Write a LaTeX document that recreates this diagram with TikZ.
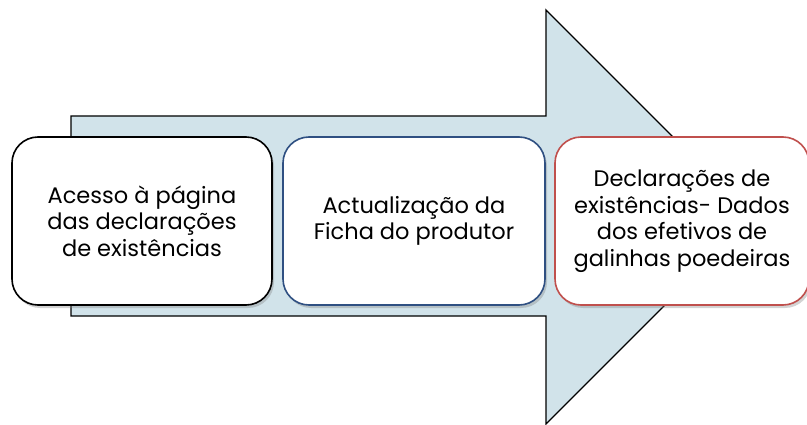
\documentclass[tikz,border=0pt]{standalone}
\usepackage{fontspec}
\setmainfont{Poppins}
\usetikzlibrary{shadows}
\definecolor{arrowfill}{RGB}{209,227,234}
\definecolor{bluebd}{RGB}{47,80,130}
\definecolor{redbd}{RGB}{192,80,77}
\begin{document}
\begin{tikzpicture}[x=1pt,y=-1pt,
  stepbox/.style={draw, line width=1.6pt, fill=white, rounded corners=26pt,
    minimum width=#1, minimum height=168pt, align=center, inner sep=2pt,
    font=\fontsize{22.5}{26.5}\selectfont,
    drop shadow={shadow xshift=2pt, shadow yshift=-3pt, opacity=0.35}},
  stepbox/.default=260pt]
\useasboundingbox (0,0) rectangle (807,425);
\draw[line width=1.4pt, fill=arrowfill] (71,116) -- (546,116) -- (546,10) -- (753,217) -- (546,424) -- (546,316) -- (71,316) -- cycle;
\node[stepbox=260pt] (a) at (142,221) {Acesso à página\\das declarações\\de existências};
\node[stepbox=262pt, draw=bluebd] (b) at (414,221) {Actualização da\\Ficha do produtor};
\node[stepbox=254pt, draw=redbd] (c) at (682,221) {Declarações de\\existências- Dados\\dos efetivos de\\galinhas poedeiras};
\end{tikzpicture}
\end{document}
